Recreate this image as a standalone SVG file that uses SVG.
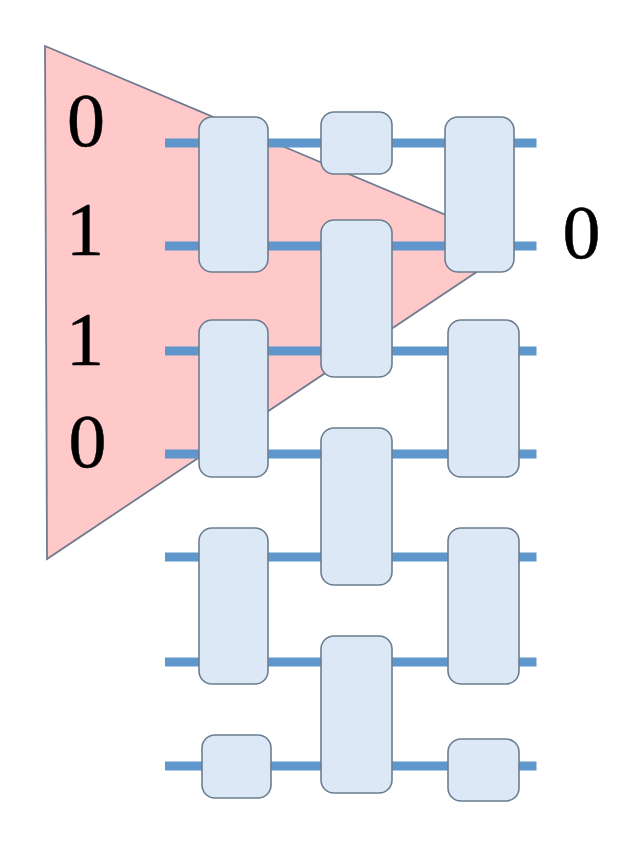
<svg xmlns="http://www.w3.org/2000/svg" width="640" height="862" viewBox="0 0 640 862">
<style>
.b{fill:#dce8f5;stroke:#6b7d90;stroke-width:1.6}
.w{stroke:#5f97cd;stroke-width:9;fill:none}
.t{font-family:"Liberation Serif","DejaVu Serif",serif;font-size:76px;fill:#000;stroke:#000;stroke-width:.5}
</style>
<rect width="640" height="862" fill="#fff"/>
<g id="cone"><polygon points="45,46 517,245 47,559" fill="#ffc9c9" stroke="#6f7a90" stroke-width="1.8"/></g>
<g id="connectors">
<path class="w" d="M165 143H536.500M165 246H536.500M165 351H536.500M165 454H536.500M165 557H536.500M165 662H536.500M165 766H536.500"/>
</g>
<g id="n1"><rect class="b" x="199" y="117" width="69" height="155" rx="13"/></g>
<g id="n2"><rect class="b" x="199" y="320" width="69" height="157" rx="13"/></g>
<g id="n3"><rect class="b" x="199" y="528" width="69" height="156" rx="13"/></g>
<g id="n4"><rect class="b" x="202" y="735" width="69" height="63" rx="13"/></g>
<g id="n5"><rect class="b" x="321" y="112" width="71" height="62" rx="13"/></g>
<g id="n6"><rect class="b" x="321" y="220" width="71" height="157" rx="13"/></g>
<g id="n7"><rect class="b" x="321" y="428" width="71" height="157" rx="13"/></g>
<g id="n8"><rect class="b" x="321" y="636" width="71" height="157" rx="13"/></g>
<g id="n9"><rect class="b" x="445" y="117" width="69" height="155" rx="13"/></g>
<g id="n10"><rect class="b" x="448" y="320" width="71" height="157" rx="13"/></g>
<g id="n11"><rect class="b" x="448" y="528" width="71" height="156" rx="13"/></g>
<g id="n12"><rect class="b" x="448" y="739" width="71" height="62" rx="13"/></g>
<g id="labels">
<text class="t" x="86" y="146" text-anchor="middle">0</text>
<text class="t" x="85" y="255" text-anchor="middle">1</text>
<text class="t" x="85" y="365" text-anchor="middle">1</text>
<text class="t" x="87.500" y="467" text-anchor="middle">0</text>
<text class="t" x="581.500" y="258" text-anchor="middle">0</text>
</g>
</svg>
